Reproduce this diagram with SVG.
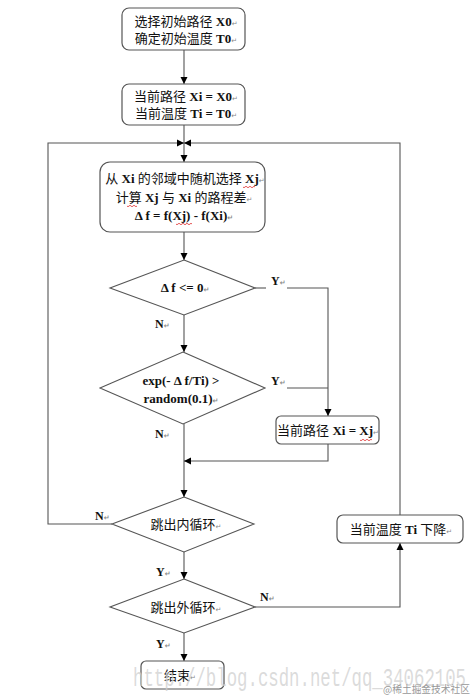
<svg xmlns="http://www.w3.org/2000/svg" width="476" height="697" viewBox="0 0 476 697">
<defs>
<marker id="arr" markerWidth="8" markerHeight="8" refX="7" refY="4" orient="auto" markerUnits="userSpaceOnUse">
<path d="M0,0.5 L7,4 L0,7.5 Z" fill="#000"/>
</marker>
<style>
.box{fill:#fff;stroke:#555;stroke-width:1.2}
.dia{fill:#fff;stroke:#555;stroke-width:1.1}
.ln{fill:none;stroke:#555;stroke-width:1.1}
.t{font-family:"Liberation Serif","Noto Sans CJK SC",serif;font-size:13px;fill:#111;text-anchor:middle}
.b{font-weight:bold}
.pm{font-family:"DejaVu Sans",sans-serif;font-size:7px;fill:#888}
.lbl{font-family:"Liberation Serif",serif;font-size:12px;font-weight:bold;fill:#111}
.sq{fill:none;stroke:#e03030;stroke-width:0.8}
</style>
</defs>
<rect width="476" height="697" fill="#fff"/>

<g id="connectors">
<line class="ln" x1="184" y1="50" x2="184" y2="84" marker-end="url(#arr)"/>
<line class="ln" x1="184" y1="125" x2="184" y2="162" marker-end="url(#arr)"/>
<polyline class="ln" points="112,524 48,524 48,143 184,143" marker-end="url(#arr)"/>
<polyline class="ln" points="400,515 400,143 184,143" marker-end="url(#arr)"/>
<line class="ln" x1="184" y1="232" x2="184" y2="260" marker-end="url(#arr)"/>
<line class="ln" x1="255" y1="288" x2="266" y2="288"/>
<polyline class="ln" points="287,288 328,288 328,416" marker-end="url(#arr)"/>
<line class="ln" x1="184" y1="315" x2="184" y2="352" marker-end="url(#arr)"/>
<line class="ln" x1="287" y1="388" x2="328" y2="388"/>
<line class="ln" x1="184" y1="424" x2="184" y2="497" marker-end="url(#arr)"/>
<polyline class="ln" points="328,444 328,461 184,461" marker-end="url(#arr)"/>
<line class="ln" x1="184" y1="552" x2="184" y2="579" marker-end="url(#arr)"/>
<polyline class="ln" points="255,607 400,607 400,543" marker-end="url(#arr)"/>
<line class="ln" x1="184" y1="633" x2="184" y2="661" marker-end="url(#arr)"/>
</g>

<g id="labels">
<text class="lbl" x="271" y="285">Y<tspan class="pm">↵</tspan></text>
<text class="lbl" x="155" y="328">N<tspan class="pm">↵</tspan></text>
<text class="lbl" x="271" y="385">Y<tspan class="pm">↵</tspan></text>
<text class="lbl" x="155" y="438">N<tspan class="pm">↵</tspan></text>
<text class="lbl" x="95" y="520">N<tspan class="pm">↵</tspan></text>
<text class="lbl" x="156" y="576">Y<tspan class="pm">↵</tspan></text>
<text class="lbl" x="260" y="601">N<tspan class="pm">↵</tspan></text>
<text class="lbl" x="156" y="648">Y<tspan class="pm">↵</tspan></text>
</g>

<g id="start">
<rect class="box" x="122" y="8" width="123" height="42" rx="7"/>
<text class="t" x="186" y="26">选择初始路径 <tspan class="b">X0</tspan><tspan class="pm">↵</tspan></text>
<text class="t" x="186" y="43">确定初始温度 <tspan class="b">T0</tspan><tspan class="pm">↵</tspan></text>
</g>

<g id="init">
<rect class="box" x="122" y="84" width="123" height="41" rx="7"/>
<text class="t" x="186" y="101">当前路径 <tspan class="b">Xi = X0</tspan><tspan class="pm">↵</tspan></text>
<text class="t" x="186" y="118">当前温度 <tspan class="b">Ti = T0</tspan><tspan class="pm">↵</tspan></text>
</g>

<g id="neighbor">
<rect class="box" x="100" y="162" width="165" height="70" rx="10"/>
<text class="t" x="185" y="183">从 <tspan class="b">Xi</tspan> 的邻域中随机选择 <tspan class="b">Xj</tspan><tspan class="pm">↵</tspan></text>
<text class="t" x="184" y="202">计算 <tspan class="b">Xj</tspan> 与 <tspan class="b">Xi</tspan> 的路程差<tspan class="pm">↵</tspan></text>
<text class="t b" x="184" y="220">Δ f = f(Xj) - f(Xi)<tspan class="pm">↵</tspan></text>
<path class="sq" d="M243,187 q1,1.5 2,0 t2,0 t2,0 t2,0 t2,0 t2,0"/>
<path class="sq" d="M127,206 q1,1.5 2,0 t2,0 t2,0 t2,0 t2,0"/>
<path class="sq" d="M176,224 q1,1.5 2,0 t2,0 t2,0 t2,0 t2,0 t2,0 t2,0 t2,0"/>
</g>

<g id="cond1">
<polygon class="dia" points="184,260 255,288 184,315 110,288"/>
<text class="t b" x="185" y="292">Δ f &lt;= 0<tspan class="pm">↵</tspan></text>
</g>

<g id="cond2">
<polygon class="dia" points="183,352 265,388 183,424 100,388"/>
<text class="t b" x="181" y="385">exp(- Δ f/Ti) &gt;</text>
<text class="t b" x="181" y="403">random(0.1)<tspan class="pm">↵</tspan></text>
</g>

<g id="update">
<rect class="box" x="276" y="416" width="103" height="28" rx="5"/>
<text class="t" x="328" y="435">当前路径 <tspan class="b">Xi = Xj</tspan><tspan class="pm">↵</tspan></text>
<path class="sq" d="M360,440 q1,1.5 2,0 t2,0 t2,0 t2,0 t2,0 t2,0"/>
</g>

<g id="inner">
<polygon class="dia" points="184,497 254,524 184,552 112,524"/>
<text class="t" x="186" y="529">跳出内循环<tspan class="pm">↵</tspan></text>
</g>

<g id="cool">
<rect class="box" x="337" y="515" width="126" height="28" rx="6"/>
<text class="t" x="401" y="534">当前温度 <tspan class="b">Ti</tspan> 下降<tspan class="pm">↵</tspan></text>
</g>

<g id="outer">
<polygon class="dia" points="184,579 255,607 184,633 110,607"/>
<text class="t" x="186" y="612">跳出外循环<tspan class="pm">↵</tspan></text>
</g>

<g id="end">
<rect class="box" x="141" y="661" width="83" height="28" rx="5"/>
<text class="t" x="180" y="680">结束<tspan class="pm">↵</tspan></text>
</g>

<g id="watermark">
<text x="133" y="686" font-family="Liberation Mono, monospace" font-size="25" fill="#cfcfcf" fill-opacity="0.75" textLength="333" lengthAdjust="spacingAndGlyphs">http://blog.csdn.net/qq_34062105</text>
<text x="383" y="693" font-family="Noto Sans CJK SC, sans-serif" font-size="10" fill="#999" textLength="87" lengthAdjust="spacingAndGlyphs">@稀土掘金技术社区</text>
</g>
</svg>
